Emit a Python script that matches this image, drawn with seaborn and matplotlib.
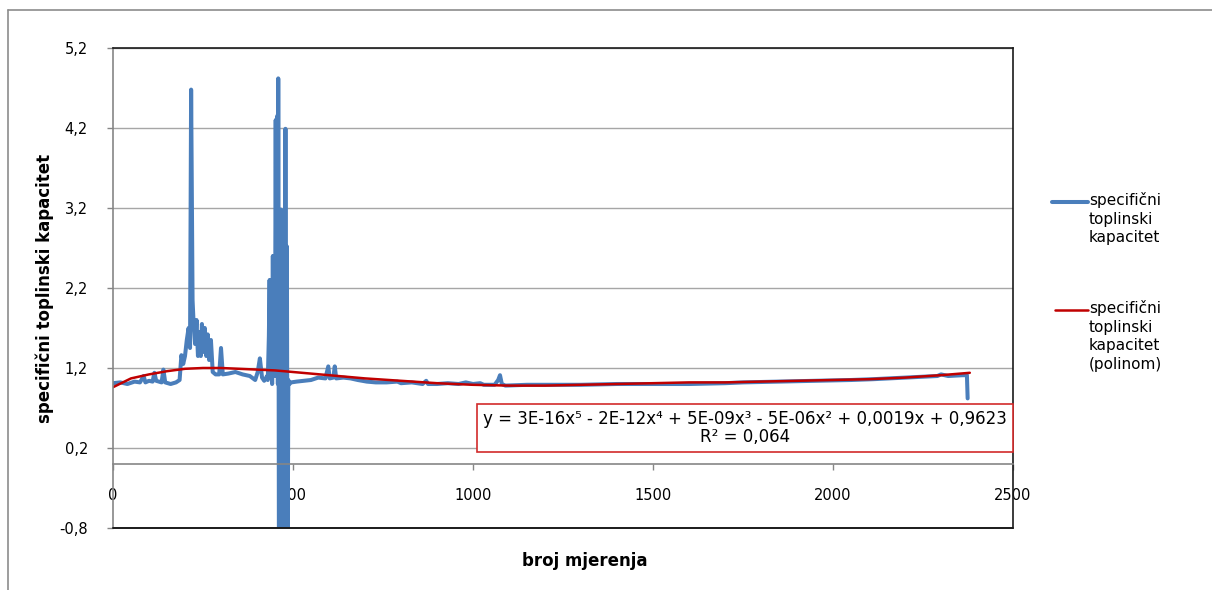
import matplotlib
matplotlib.use('Agg')
import matplotlib.pyplot as plt
from matplotlib.lines import Line2D
from matplotlib.ticker import FuncFormatter
import seaborn as sns
import pandas as pd

mjerenja = [0, 20, 40, 60, 75, 85, 90, 100, 110, 115, 120, 135, 140, 145, 160, 175, 185,
            190, 195, 200, 205, 210, 214, 217, 221, 224, 228, 232, 236, 240, 244, 247, 251,
            255, 259, 263, 267, 272, 277, 285, 295, 300, 305, 320, 340, 360, 380, 395, 402,
            408, 414, 420, 428, 430, 433, 435, 437, 440, 442, 444, 446, 448, 450, 452, 454,
            456, 458, 459, 461, 463, 465, 467, 469, 471, 473, 475, 477, 479, 481, 483, 485,
            487, 490, 495, 510, 530, 550, 570, 590, 598, 602, 612, 616, 620, 640, 660, 680,
            705, 730, 760, 790, 800, 830, 860, 870, 875, 900, 930, 960, 980, 1000, 1020,
            1030, 1060, 1070, 1075, 1080, 1090, 1150, 1200, 1300, 1400, 1500, 1600, 1700,
            1750, 1850, 1950, 2050, 2111, 2200, 2290, 2300, 2320, 2360, 2372, 2374]
kapacitet = [1.01, 1.02, 1.00, 1.03, 1.02, 1.10, 1.02, 1.04, 1.03, 1.14, 1.04, 1.02, 1.18, 1.02,
             1.00, 1.02, 1.05, 1.36, 1.25, 1.35, 1.55, 1.70, 1.45, 4.68, 2.05, 1.75, 1.50, 1.80,
             1.35, 1.65, 1.35, 1.75, 1.40, 1.70, 1.35, 1.62, 1.30, 1.55, 1.15, 1.12, 1.12, 1.45,
             1.12, 1.13, 1.15, 1.12, 1.10, 1.05, 1.15, 1.32, 1.08, 1.04, 1.10, 1.05, 1.60, 2.30,
             1.10, 2.30, 1.00, 2.60, 1.10, 2.60, 1.20, 4.30, 1.10, 4.35, 1.00, 4.82, -1.5, 3.10,
             -1.5, 3.18, -1.5, 3.00, -1.5, 2.90, -1.5, 4.19, -1.5, 2.72, -1.5, 1.05, 1.00, 1.02,
             1.03, 1.04, 1.05, 1.08, 1.07, 1.22, 1.07, 1.08, 1.22, 1.07, 1.08, 1.07, 1.05, 1.03,
             1.02, 1.02, 1.03, 1.01, 1.02, 1.00, 1.04, 1.00, 1.00, 1.01, 1.00, 1.02, 1.00, 1.01,
             0.99, 0.99, 1.05, 1.11, 1.00, 0.98, 0.99, 0.99, 0.99, 1.00, 1.00, 1.00, 1.01, 1.02,
             1.03, 1.04, 1.05, 1.06, 1.08, 1.10, 1.12, 1.10, 1.11, 1.11, 0.82]

# polynomial trend line
trend_x = [0, 50, 100, 150, 200, 250, 300, 350, 400, 450, 500, 600, 700, 800, 900, 1000,
           1100, 1200, 1300, 1400, 1500, 1600, 1700, 1800, 1900, 2000, 2100, 2200, 2300, 2380]
trend_y = [0.96, 1.07, 1.12, 1.16, 1.19, 1.20, 1.20, 1.19, 1.18, 1.17, 1.15, 1.11, 1.07, 1.04,
           1.01, 0.99, 0.98, 0.98, 0.99, 1.00, 1.01, 1.02, 1.02, 1.03, 1.04, 1.05, 1.06, 1.08,
           1.11, 1.14]

y_ticks = [-0.8, 0.2, 1.2, 2.2, 3.2, 4.2, 5.2]
x_ticks = [0, 500, 1000, 1500, 2000, 2500]
equation = 'y = 3E-16x\u2075 - 2E-12x\u2074 + 5E-09x\u00b3 - 5E-06x\u00b2 + 0,0019x + 0,9623\nR\u00b2 = 0,064'
legend_labels = ['specifi\u010dni\ntoplinski\nkapacitet',
                 'specifi\u010dni\ntoplinski\nkapacitet\n(polinom)']

blue = '#4a7ebb'
red = '#c00000'

sns.set_style('white')
plt.rcParams['font.family'] = ['DejaVu Sans']
plt.rcParams['text.color'] = 'black'
plt.rcParams['axes.labelcolor'] = 'black'

df = pd.DataFrame({'x': mjerenja, 'y': kapacitet})
df_trend = pd.DataFrame({'x': trend_x, 'y': trend_y})

fig = plt.figure(figsize=(12.12, 5.9), dpi=100)
ax = fig.add_axes([113 / 1212, 1 - 528 / 590, 900 / 1212, 480 / 590])

sns.lineplot(data=df, x='x', y='y', ax=ax, color=blue, lw=2.9, estimator=None, sort=False)
sns.lineplot(data=df_trend, x='x', y='y', ax=ax, color=red, lw=1.8, estimator=None, sort=False)

ax.set_xlim(0, 2500)
ax.set_ylim(-0.8, 5.2)
ax.set_yticks(y_ticks)
ax.set_xticks(x_ticks)
comma = FuncFormatter(lambda v, p: ('%.1f' % v).replace('.', ','))
ax.yaxis.set_major_formatter(comma)
ax.xaxis.set_major_formatter(FuncFormatter(lambda v, p: '%d' % v))

# gridlines
for t in y_ticks[1:]:
    ax.axhline(t, color='#a6a6a6', lw=1, zorder=0)

# spines: x axis crosses at 0, plot area frame dark
ax.spines['bottom'].set_position(('data', 0))
ax.spines['bottom'].set_color('#868686')
ax.spines['left'].set_color('#868686')
ax.spines['top'].set_color('#1a1a1a')
ax.spines['right'].set_color('#1a1a1a')
for s in ax.spines.values():
    s.set_linewidth(1.2)
ax.axhline(-0.8, color='#1a1a1a', lw=1.4, clip_on=False, zorder=5)

ax.tick_params(axis='x', direction='out', length=4.5, width=1, color='#868686', pad=13,
               labelsize=10.5, labelcolor='black', bottom=True)
ax.tick_params(axis='y', direction='out', length=4, width=1, color='#868686', pad=14,
               labelsize=10.5, labelcolor='black', left=True)

ax.set_xlabel('broj mjerenja', fontsize=12, fontweight='bold')
ax.set_ylabel('specifi\u010dni toplinski kapacitet', fontsize=12, fontweight='bold')
ax.xaxis.set_label_coords(0.524, -0.05)
ax.yaxis.set_label_coords(-0.066, 0.5)

# trend line equation box
ax.text(0.702, 0.208, equation, transform=ax.transAxes, ha='center', va='center',
        fontsize=12, linespacing=1.0, zorder=6,
        bbox=dict(boxstyle='square,pad=0.35', fc='white', ec='#d22b2b', lw=1.2))

# legend on the right, marker next to the first text line as in the original
fig.add_artist(Line2D([1052 / 1212, 1088 / 1212], [1 - 201.5 / 590, 1 - 201.5 / 590],
                      color=blue, lw=2.9))
fig.add_artist(Line2D([1055 / 1212, 1088 / 1212], [1 - 310 / 590, 1 - 310 / 590],
                      color=red, lw=1.8))
fig.text(1089 / 1212, 1 - 192 / 590, legend_labels[0], fontsize=11, va='top', ha='left',
         linespacing=1.3)
fig.text(1089 / 1212, 1 - 300 / 590, legend_labels[1], fontsize=11, va='top', ha='left',
         linespacing=1.3)

# outer chart border
fig.add_artist(Line2D([8 / 1212, 1], [1 - 9.5 / 590, 1 - 9.5 / 590], color='#8c8c8c', lw=1.2))
fig.add_artist(Line2D([8 / 1212, 8 / 1212], [0, 1 - 9.5 / 590], color='#8c8c8c', lw=1.2))

plt.savefig('out.png', dpi=100)
